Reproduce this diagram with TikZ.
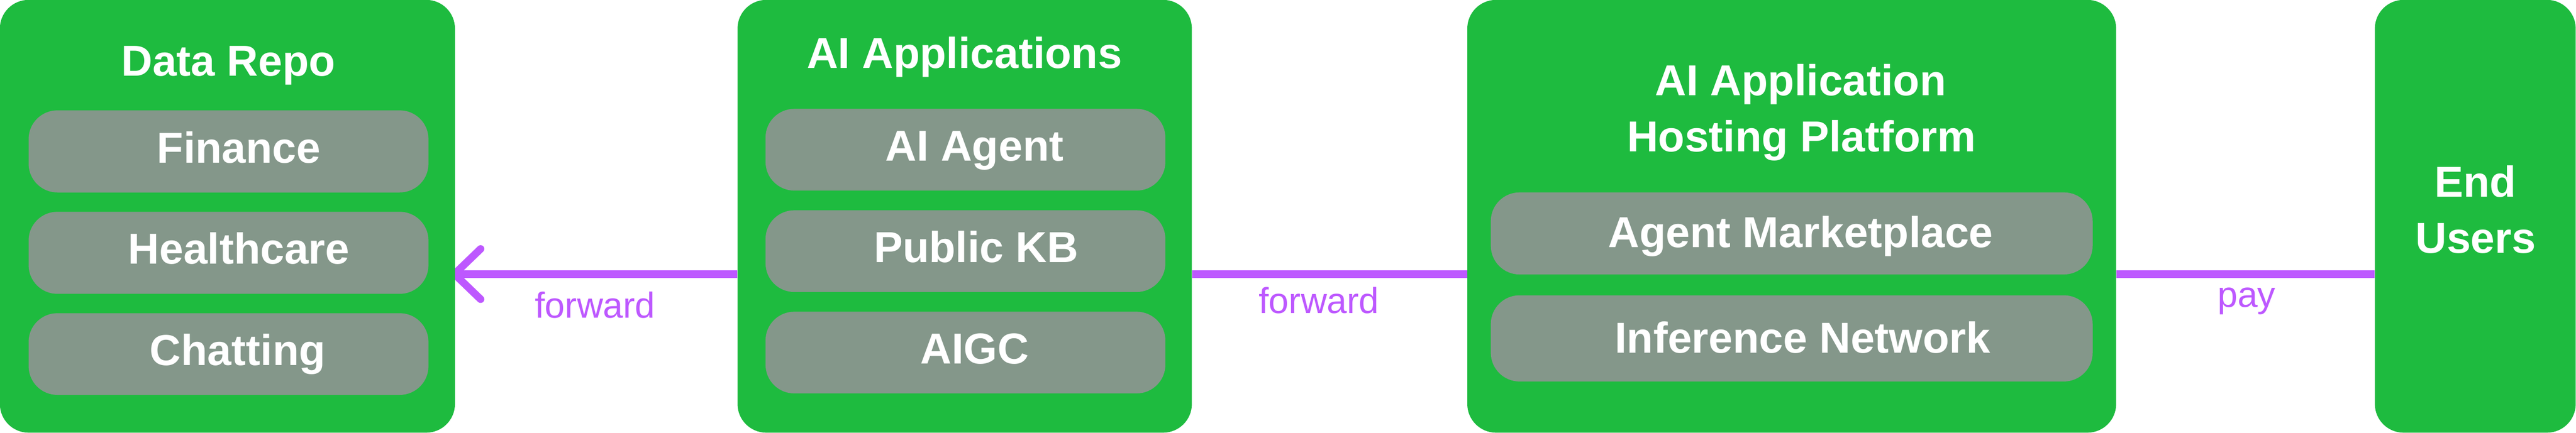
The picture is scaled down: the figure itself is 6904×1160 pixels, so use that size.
\documentclass[tikz,border=0pt]{standalone}
\usepackage{fontspec}
\setmainfont{Liberation Sans}
\usetikzlibrary{arrows.meta}
\definecolor{boxgreen}{HTML}{1EBB3F}
\definecolor{itemgray}{HTML}{84978A}
\definecolor{linkpurple}{HTML}{BD58FF}
\pgfdeclarelayer{bg}
\pgfsetlayers{bg,main}
\begin{document}
\begin{tikzpicture}[x=0.01cm,y=-0.01cm,
  outerbox/.style={draw=none,fill=boxgreen,rounded corners=0.77cm,inner sep=0pt,minimum height=11.6cm},
  itembox/.style={draw=none,fill=itemgray,rounded corners=0.77cm,inner sep=0pt},
  boxtext/.style={text=white,font=\bfseries\fontsize{33}{40}\selectfont,anchor=base,inner sep=0pt},
  linktext/.style={text=linkpurple,font=\fontsize{27.5}{33}\selectfont,anchor=base,inner sep=0pt},
  conn/.style={draw=linkpurple,line width=0.2cm}]
\useasboundingbox (0,0) rectangle (6904,1160);
% outer boxes
\node[outerbox,minimum width=12.19cm] (drepo) at (609.5,580) {};
\node[outerbox,minimum width=12.17cm] (aiapps) at (2585.5,580) {};
\node[outerbox,minimum width=17.38cm] (host) at (4802,580) {};
\node[outerbox,minimum width=5.38cm] (users) at (6634,580) {};
% inner boxes
\node[itembox,minimum width=10.71cm,minimum height=2.2cm] (fin) at (612.5,406) {};
\node[itembox,minimum width=10.71cm,minimum height=2.2cm] (hc) at (612.5,678) {};
\node[itembox,minimum width=10.71cm,minimum height=2.19cm] (chat) at (612.5,949.5) {};
\node[itembox,minimum width=10.71cm,minimum height=2.19cm] (agent) at (2587.5,401.5) {};
\node[itembox,minimum width=10.71cm,minimum height=2.19cm] (kb) at (2587.5,673.5) {};
\node[itembox,minimum width=10.71cm,minimum height=2.19cm] (aigc) at (2587.5,945.5) {};
\node[itembox,minimum width=16.12cm,minimum height=2.2cm] (mkt) at (4802,626) {};
\node[itembox,minimum width=16.12cm,minimum height=2.31cm] (inf) at (4802,907.5) {};
% texts
\node[boxtext] (tdrepo) at (612,204) {Data Repo};
\node[boxtext] (tfin) at (640,437) {Finance};
\node[boxtext] (thc) at (640,708) {Healthcare};
\node[boxtext] (tchat) at (637,980) {Chatting};
\node[boxtext] (taiapps) at (2585,183.5) {AI Applications};
\node[boxtext] (tagent) at (2612,432) {AI Agent};
\node[boxtext] (tkb) at (2616,703.5) {Public KB};
\node[boxtext] (taigc) at (2612,975) {AIGC};
\node[boxtext] (thost1) at (4826,256) {AI Application};
\node[boxtext] (thost2) at (4828,407) {Hosting Platform};
\node[boxtext] (tmkt) at (4826,664) {Agent Marketplace};
\node[boxtext] (tinf) at (4831,946) {Inference Network};
\node[boxtext] (tusers1) at (6634,527.5) {End};
\node[boxtext] (tusers2) at (6635,678.5) {Users};
% connectors
\coordinate (ly) at (0,735);
\begin{pgfonlayer}{bg}
\draw[conn,shorten >=-0.12cm,-{Straight Barb[length=0.7cm,width=1.35cm,round]}] (aiapps.west |- ly) -- (drepo.east |- ly);
\draw[conn] (host.west |- ly) -- (aiapps.east |- ly);
\draw[conn] (users.west |- ly) -- (host.east |- ly);
\end{pgfonlayer}
\node[linktext] (lf1) at (1595,852) {forward};
\node[linktext] (lf2) at (3535,840) {forward};
\node[linktext] (lpay) at (6021,824) {pay};
\end{tikzpicture}
\end{document}
